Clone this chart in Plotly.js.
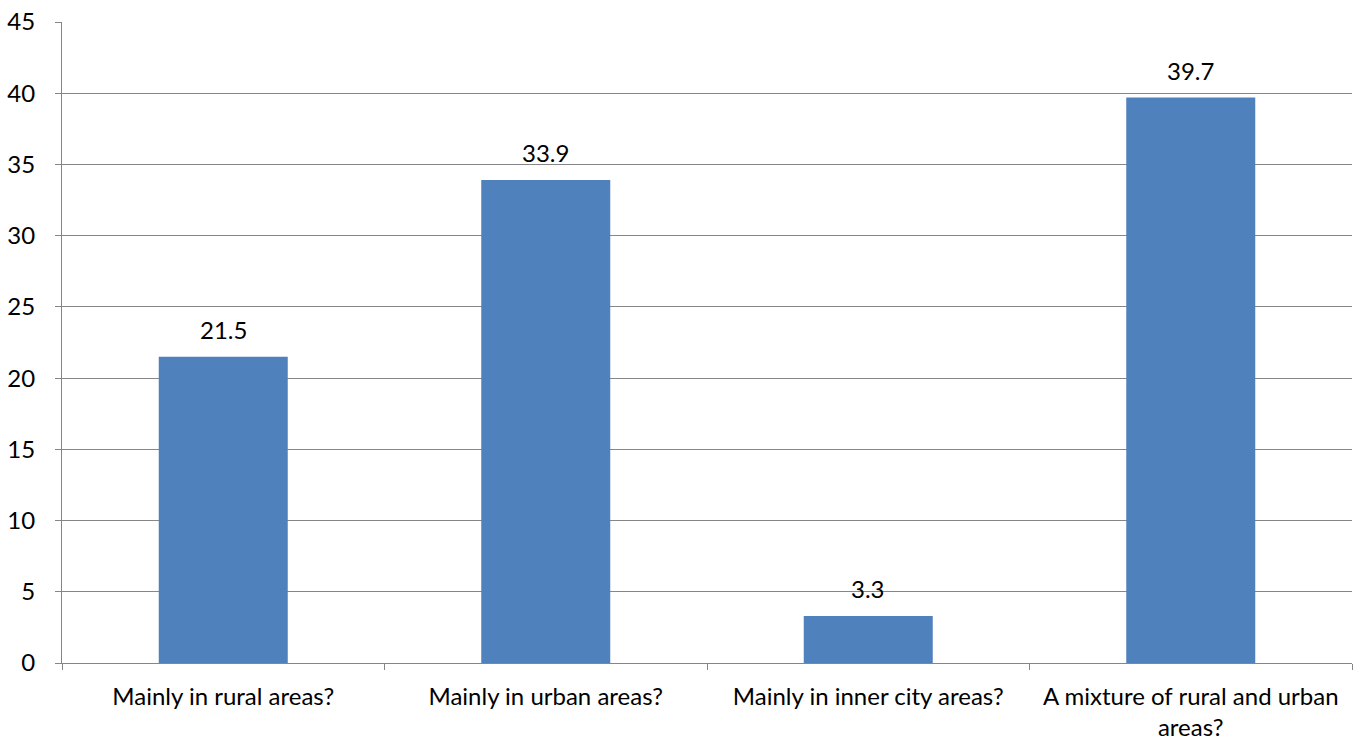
<!DOCTYPE html>
<html>
<head>
<meta charset="utf-8">
<script src="https://cdn.plot.ly/plotly-3.0.1.min.js"></script>
<style>html,body{margin:0;padding:0;background:#fff;}#chart{width:1360px;height:742px;}</style>
</head>
<body>
<div id="chart"></div>
<script>
const categories = ["Mainly in rural areas?", "Mainly in urban areas?", "Mainly in inner city areas?", "A mixture of rural and urban areas?"];
const tickLabels = ["Mainly in rural areas?", "Mainly in urban areas?", "Mainly in inner city areas?", "A mixture of rural and urban<br>areas?"];
const values = [21.5, 33.9, 3.3, 39.7];
const valueLabels = ["21.5", "33.9", "3.3", "39.7"];

const font = "Lato, Open Sans, sans-serif";
const fs = 24;
const annotations = categories.map((c, i) => ({
  x: c, y: values[i], text: valueLabels[i],
  xref: "x", yref: "y", yanchor: "bottom", showarrow: false,
  yshift: 11, font: {family: font, size: fs, color: "#000"}
}));
Plotly.newPlot("chart", [{
  type: "bar",
  x: categories,
  y: values,
  marker: {color: "#4F81BD"},
  hoverinfo: "none"
}], {
  width: 1360, height: 742,
  margin: {l: 62, r: 8, t: 22, b: 79},
  paper_bgcolor: "#fff", plot_bgcolor: "#fff",
  bargap: 0.6,
  showlegend: false,
  font: {family: font, size: fs, color: "#000"},
  annotations: annotations,
  xaxis: {
    type: "category",
    tickvals: categories,
    ticktext: tickLabels,
    tickson: "boundaries",
    ticks: "outside", ticklen: 6, tickcolor: "#868686", tickwidth: 1,
    ticklabelstandoff: 12,
    showline: true, linecolor: "#868686", linewidth: 1,
    showgrid: false, zeroline: false,
    tickfont: {family: font, size: fs, color: "#000"}
  },
  yaxis: {
    range: [0, 45],
    dtick: 5,
    ticks: "outside", ticklen: 6, tickcolor: "#868686",
    ticklabelstandoff: 15,
    showline: true, linecolor: "#868686", linewidth: 1,
    showgrid: true, gridcolor: "#868686", gridwidth: 1,
    zeroline: false,
    tickfont: {family: font, size: fs, color: "#000"}
  }
}, {displayModeBar: false, staticPlot: true});
</script>
</body>
</html>
